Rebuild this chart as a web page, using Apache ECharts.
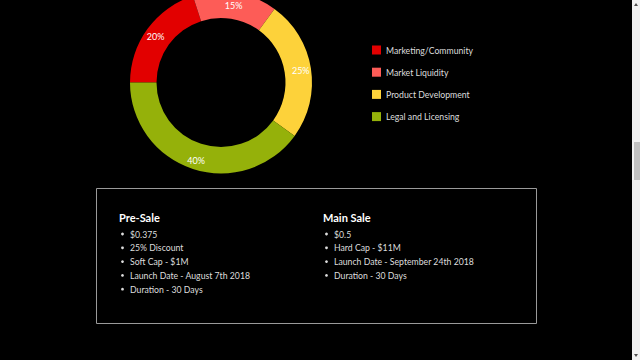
<!DOCTYPE html>
<html>
<head>
<meta charset="utf-8">
<script src="https://cdn.jsdelivr.net/npm/echarts@6/dist/echarts.min.js"></script>
<style>
html,body{margin:0;padding:0;background:#000;overflow:hidden;}
#chart{width:640px;height:360px;}
</style>
</head>
<body>
<div id="chart"></div>
<script>
var categories = ['Marketing/Community', 'Market Liquidity', 'Product Development', 'Legal and Licensing'];
var values = [20, 15, 25, 40];
var colors = ['#e20000', '#fd5c57', '#fdd23a', '#95b10a'];
var preSaleTitle = 'Pre-Sale';
var preSaleItems = ['$0.375', '25% Discount', 'Soft Cap - $1M', 'Launch Date - August 7th 2018', 'Duration - 30 Days'];
var mainSaleTitle = 'Main Sale';
var mainSaleItems = ['$0.5', 'Hard Cap - $11M', 'Launch Date - September 24th 2018', 'Duration - 30 Days'];

var FONT = 'Lato, "Open Sans", sans-serif';
var chart = echarts.init(document.getElementById('chart'), null, {renderer: 'svg'});

function column(title, items, x, lineEnd) {
  var els = [];
  els.push({type: 'text', x: x, y: 217.5, style: {text: title, fill: '#fff', font: 'bold 11px ' + FONT, textVerticalAlign: 'middle'}});
  els.push({type: 'line', shape: {x1: x, y1: 227.5, x2: lineEnd, y2: 227.5},
    style: {lineWidth: 1, stroke: new echarts.graphic.LinearGradient(0, 0, 1, 0, [{offset: 0, color: '#555'}, {offset: 1, color: '#1a1a1a'}])}});
  items.forEach(function (t, i) {
    var y = 234 + i * 13.8;
    els.push({type: 'circle', shape: {cx: x + 3.5, cy: y, r: 1.4}, style: {fill: '#ddd'}});
    els.push({type: 'text', x: x + 11, y: y, style: {text: t, fill: '#ddd', font: '8.7px ' + FONT, textVerticalAlign: 'middle'}});
  });
  return els;
}

var graphics = [
  {type: 'rect', shape: {x: 96.5, y: 188.5, width: 440, height: 135}, style: {fill: 'none', stroke: '#9a9a9a', lineWidth: 1}},
  // browser scrollbar
  {type: 'rect', shape: {x: 632, y: 0, width: 8, height: 360}, style: {fill: '#f1f1f1'}},
  {type: 'rect', shape: {x: 634, y: 142, width: 6, height: 38}, style: {fill: '#c1c1c1'}},
  {type: 'polygon', shape: {points: [[634, 6], [638, 6], [636, 3]]}, style: {fill: '#505050'}},
  {type: 'polygon', shape: {points: [[634, 354], [638, 354], [636, 357]]}, style: {fill: '#505050'}}
].concat(column(preSaleTitle, preSaleItems, 119, 273), column(mainSaleTitle, mainSaleItems, 323, 480));

chart.setOption({
  backgroundColor: '#000',
  animation: false,
  color: colors,
  legend: {
    orient: 'vertical',
    left: 372,
    top: 44,
    padding: 0,
    itemWidth: 9,
    itemHeight: 9,
    itemGap: 10.2,
    icon: 'rect',
    data: categories,
    textStyle: {color: '#ddd', fontSize: 8.7, fontFamily: FONT, lineHeight: 12}
  },
  series: [{
    type: 'pie',
    center: [221, 82.5],
    radius: [64.5, 91],
    startAngle: 180,
    clockwise: true,
    avoidLabelOverlap: false,
    label: {show: true, position: 'inside', formatter: '{c}%', color: '#fff', fontSize: 9, lineHeight: 9, offset: [0, 1], fontFamily: FONT},
    labelLine: {show: false},
    itemStyle: {borderWidth: 0},
    emphasis: {disabled: true},
    data: categories.map(function (c, i) {
      var d = {name: c, value: values[i]};
      if (i === 1) { d.label = {offset: [0, 2.8]}; }
      return d;
    })
  }],
  graphic: graphics
});
</script>
</body>
</html>
